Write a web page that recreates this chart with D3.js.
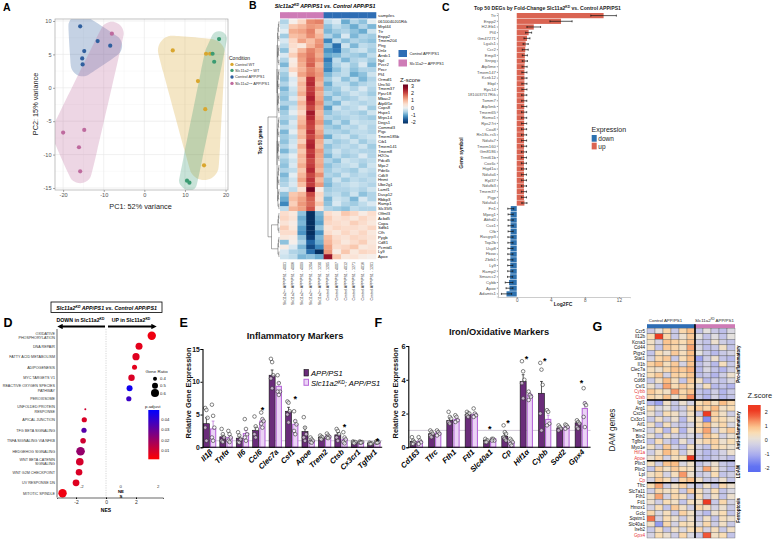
<!DOCTYPE html>
<html>
<head>
<meta charset="utf-8">
<script src="https://cdn.jsdelivr.net/npm/d3@7"></script>
<style>
body { margin: 0; background: #fff; }
svg { font-family: "Liberation Sans", Arial, sans-serif; }
</style>
</head>
<body>
<svg id="fig" width="776" height="540"></svg>
<script>
var FONT = "Liberation Sans, Arial, sans-serif";

// ---------------- data: panel A (PCA) ----------------
var pcaGroups = ["Control WT", "Slc11a2^{KD} WT", "Control APP/PS1", "Slc11a2^{KD} APP/PS1"];
var pcaColors = ["#D9A62E", "#3B9B72", "#2F5F9E", "#BE6A9E"];
var pc1 = [7, 13.2, 15.2, 16.2, 15, 14.7, 10.5, 11.1, 18.4, 17.2, 16.8, -15.8, -11.5, -8.4, -14.8, -15.3, -15.2, -8, -14.8, -20, -16.1, -15.8];
var pc2 = [5.6, 1, 5.1, 5.1, -3.2, -11.6, -13.9, -14.2, 7.3, 3.9, 5.1, 9.2, 7, 6.3, 5.5, 4.4, 3.5, 8.1, -6.3, -6.7, -8.9, -12.5];
var pcGroup = [0, 0, 0, 0, 0, 0, 1, 1, 1, 1, 1, 2, 2, 2, 2, 2, 2, 3, 3, 3, 3, 3];

// ---------------- data: panel B (heatmap) ----------------
var genesB = ["0610040J01Rik","Mrpl44","Ttr","Enpp2","Tmem204","Ptrg","Dnlz","Arrdc1","Npl","Pvcr2","Pecr","Pf4",
  "Ormdl1","Unc50","Tmem37","Ppsr18","Mbac2","Atp6f1e","Cops8","Hspe1","Mrps14","Degs1","Commd3","Pigc",
  "Tmem185b","Cib1","Tmem141","Tmem8","H2Oa","Pdcd5","Mpc2","Pde6c","Cdk9","Hnmt","Ube2g1","Lamf1",
  "Dusp12","Rbbp3","Ramp1","Slc35f5","Olfml3","Acbd5","Copa","Sdfb1","Cfh","Pygb","Cd81","Pcmtd1","Ly9","Apoe"];
var samplesB = ["Slc11a2^{KD} APP/PS1 - 4001","Slc11a2^{KD} APP/PS1 - 4006","Slc11a2^{KD} APP/PS1 - 4009",
  "Slc11a2^{KD} APP/PS1 - 1204","Slc11a2^{KD} APP/PS1 - 1230","Control APP/PS1 - 1205","Control APP/PS1 - 4007",
  "Control APP/PS1 - 4012","Control APP/PS1 - 1271","Control APP/PS1 - 4016","Control APP/PS1 - 1201"];
var sampleGroupB = [1, 1, 1, 1, 1, 0, 0, 0, 0, 0, 0];
var heatB = [
  [-0.6, 0.1, 0.6, 1.4, 1.5, -0.5, -0.3, -1.0, -0.6, -0.8, -0.2],
  [-0.4, 0.8, 1.0, 1.3, 1.2, -0.8, -0.5, -0.7, -1.0, -0.6, -0.9],
  [-0.2, 1.1, 1.2, 1.5, 0.8, -0.9, -0.7, -0.6, -0.8, -1.0, -0.4],
  [-0.7, 0.9, 1.0, 1.4, 1.0, -0.6, -0.9, -0.3, -0.9, -0.6, -0.7],
  [-0.3, 0.6, 1.2, 0.9, 1.3, -1.3, -0.5, -0.8, -0.6, -0.7, -0.8],
  [-0.5, 0.5, 0.3, 1.0, 1.4, -0.8, -1.5, -0.4, -0.9, -0.5, -0.6],
  [-0.8, 0.4, 1.0, 1.5, 1.2, -1.2, -1.4, -0.7, -0.5, -0.4, -0.7],
  [-0.3, 0.7, 1.3, 1.6, 1.1, -1.0, -0.9, -0.6, -0.7, -0.8, -0.5],
  [-0.6, 0.2, 1.2, 1.7, 1.3, -1.4, -0.5, -0.9, -0.6, -0.5, -0.7],
  [-0.9, 0.3, 1.1, 1.8, 1.0, -1.2, -0.6, -0.4, -0.7, -0.3, -0.9],
  [-0.5, 0.6, 1.0, 1.5, 1.2, -1.3, -0.8, -0.5, -0.8, -0.6, -0.6],
  [-0.7, 0.1, 1.2, 1.6, 1.3, -0.9, -0.6, -0.5, -1.0, -0.8, -0.4],
  [-0.8, -0.3, 0.8, 2.2, 1.2, -0.7, -0.4, -0.8, -0.5, -0.9, -0.6],
  [-0.6, -0.2, 1.0, 2.3, 1.0, -1.0, -0.5, -0.5, -0.8, -0.6, -0.5],
  [-0.9, -0.4, 0.9, 2.1, 1.3, -0.8, -0.7, -0.4, -0.6, -0.3, -0.6],
  [-0.7, -0.5, 1.1, 2.2, 1.1, -0.6, -0.8, -0.6, -0.4, -0.5, -0.7],
  [-0.8, -0.3, 0.7, 2.4, 1.2, -0.9, -0.5, -0.7, -0.6, -0.4, -0.5],
  [-0.6, -0.6, 1.0, 2.2, 1.4, -0.7, -0.9, -0.4, -0.5, -0.6, -0.5],
  [-0.9, -0.4, 0.8, 2.0, 1.2, -1.1, -0.4, -0.6, -0.5, -0.3, -0.7],
  [-0.7, -0.2, 0.6, 2.5, 1.0, -0.8, -0.6, -0.5, -0.6, -0.7, -0.4],
  [-0.6, -0.5, 0.9, 2.3, 1.1, -0.6, -0.7, -0.6, -0.5, -0.6, -0.7],
  [-0.8, -0.3, 1.0, 2.1, 1.3, -0.9, -0.5, -0.8, -0.4, -0.5, -0.5],
  [-0.5, -0.4, 1.2, 2.0, 1.0, -0.7, -0.8, -0.5, -0.6, -0.4, -0.6],
  [-0.9, -0.2, 0.9, 2.2, 1.2, -0.6, -0.6, -0.7, -0.5, -0.5, -0.6],
  [-0.7, -0.5, 1.0, 2.0, 1.4, -1.0, -0.5, -0.4, -0.7, -0.5, -0.4],
  [-0.8, -0.4, 0.7, 2.3, 1.1, -0.5, -0.7, -0.6, -0.4, -0.7, -0.5],
  [-0.6, -0.3, 1.1, 2.4, 1.0, -0.8, -0.6, -0.5, -0.6, -0.4, -0.7],
  [-0.9, -0.5, 0.8, 2.1, 1.3, -0.7, -0.4, -0.6, -0.5, -0.6, -0.6],
  [-0.5, -0.2, 1.0, 2.2, 1.2, -0.9, -0.5, -0.7, -0.6, -0.3, -0.6],
  [-0.7, -0.4, 0.9, 2.0, 1.1, -0.6, -0.8, -0.4, -0.5, -0.6, -0.5],
  [-0.8, -0.3, 1.1, 2.1, 1.2, -0.8, -0.6, -0.5, -0.4, -0.7, -0.4],
  [-0.6, -0.5, 0.8, 2.3, 1.0, -0.7, -0.5, -0.6, -0.7, -0.4, -0.5],
  [-0.9, -0.2, 1.0, 2.0, 1.4, -0.6, -0.7, -0.4, -0.6, -0.5, -0.6],
  [-0.7, -0.4, 1.2, 2.2, 1.0, -0.8, -0.4, -0.7, -0.5, -0.6, -0.5],
  [-0.6, -0.3, 0.9, 2.1, 1.3, -0.9, -0.6, -0.5, -0.4, -0.5, -0.6],
  [-0.3, -0.5, 0.4, 2.9, 0.2, -0.7, -0.6, -0.6, -0.5, -0.6, -0.4],
  [-0.8, 0.8, 1.0, 2.0, 0.6, -0.6, -0.5, -0.7, -0.4, -0.8, -0.6],
  [-1.0, 0.9, 1.2, 1.8, 0.5, -0.9, -0.4, -0.5, -0.9, -0.3, -0.6],
  [-1.3, 0.7, 1.3, 1.7, 0.8, -0.8, -0.3, -0.6, -0.7, -0.5, -0.3],
  [-0.5, 1.0, 1.2, 1.9, 0.4, -0.6, -0.7, -0.8, -0.5, -0.6, -0.6],
  [0.5, 0.3, -0.8, -2.0, -0.9, 0.5, 0.3, 0.8, 0.6, 0.2, 0.5],
  [0.6, 0.4, -1.0, -2.1, -1.0, 0.7, 0.4, 0.5, 0.3, 0.6, 0.4],
  [0.4, 0.2, -0.9, -2.2, -1.1, 0.6, 0.5, 0.4, 0.7, 0.5, 0.3],
  [0.7, 0.3, -1.1, -2.0, -0.8, 0.4, 0.6, 0.5, 0.5, 0.4, 0.6],
  [0.5, 0.5, -1.2, -2.1, -1.2, 0.5, 0.3, 0.6, 0.4, 0.6, 0.3],
  [0.3, 0.2, -0.8, -1.9, -0.9, 0.9, 0.5, 0.4, 0.6, 0.5, 0.4],
  [-0.8, 0.1, -0.6, -1.6, -1.0, 1.0, 0.6, 0.3, 0.5, 0.7, 0.3],
  [0.2, -0.3, -0.9, -1.8, -1.3, 1.2, 0.5, 0.6, 0.8, 0.3, 0.4],
  [-0.3, -0.6, -0.7, -1.5, -2.0, 1.3, 0.2, 0.8, 0.3, 0.6, 0.5],
  [-0.4, -0.5, -0.9, -0.8, -1.0, 2.6, 0.8, 0.3, 0.4, 0.2, 0.1]
];

// ---------------- data: panel C (DEG fold change) ----------------
var genesC = ["Ttr","Enpp2","H2-Eb1","Pf4","Gm47271","Lgals1","Ccr2","Emp3","Snrpg","Atp5me","Tmem147","Kcnk12",
  "Ebpl","Rps14","1810037I17Rik","Tomm7","Atp5mk","Tmem65","Romo1","Rps27rt","Coa8","Rn18s-rs5","Ndufa7",
  "Tmem160","Gm8186","Trmt61b","Cox6c","Higd1a","Ndufa6","Rpl37","Ndufb3","Tmem37","Pigp","Ndufa4",
  "Fn1","Mpeg1","Abhd2","Cux1","Cfb","Rasgrp3","Top2b","Usp8","Fbxw","Zbtb1","Ly9","Ramp2","Smarcc2","Cybb","Apoe","Adamts1"];
var log2fcC = [10.2, 5.2, 2.0, 1.4, 1.2, 1.05, 1.0, 0.95, 0.95, 0.92, 0.9, 0.9, 0.9, 0.9, 0.88, 0.88, 0.88, 0.87,
  0.87, 0.87, 0.86, 0.86, 0.86, 0.86, 0.85, 0.85, 0.85, 0.85, 0.85, 0.85, 0.85, 0.85, 0.85, 0.9,
  -0.7, -0.72, -0.72, -0.72, -0.72, -0.74, -0.74, -0.74, -0.75, -0.75, -0.76, -0.76, -0.78, -0.9, -0.85, -1.2];
var seC = [1.5, 1.3, 0.8, 0.35, 0.35, 0.3, 0.35, 0.3, 0.3, 0.3, 0.3, 0.3, 0.3, 0.3, 0.3, 0.3, 0.3, 0.3,
  0.3, 0.3, 0.3, 0.3, 0.3, 0.3, 0.3, 0.3, 0.3, 0.3, 0.3, 0.3, 0.3, 0.3, 0.3, 0.3,
  0.35, 0.3, 0.3, 0.3, 0.3, 0.3, 0.3, 0.3, 0.3, 0.3, 0.3, 0.3, 0.3, 0.45, 0.4, 0.6];

// ---------------- data: panel D (GSEA) ----------------
var pathwaysD = ["OXIDATIVE\nPHOSPHORYLATION","DNA REPAIR","FATTY ACID METABOLISM","ADIPOGENESIS","MYC TARGETS V1",
  "REACTIVE OXYGEN SPECIES\nPATHWAY","PEROXISOME","UNFOLDED PROTEIN\nRESPONSE","APICAL JUNCTION","TFG BETA SIGNALING",
  "TNFA SIGNALING VIA NFKB","HEDGEHOG SIGNALING","WNT BETA CATENIN\nSIGNALING","WNT G2M CHECKPOINT","UV RESPONSE DN","MITOTIC SPINDLE"];
var nesD = [3.05, 2.2, 2.0, 1.9, 1.7, 1.57, 1.52, -1.38, -1.45, -1.47, -1.53, -1.7, -1.75, -1.8, -2.0, -2.9];
var ratioD = [0.62, 0.55, 0.56, 0.45, 0.52, 0.5, 0.46, 0.3, 0.46, 0.46, 0.48, 0.63, 0.58, 0.53, 0.54, 0.62];
var padjD = [0.004, 0.006, 0.007, 0.006, 0.008, 0.046, 0.038, 0.01, 0.008, 0.033, 0.01, 0.021, 0.009, 0.008, 0.007, 0.004];

// ---------------- data: panel E (inflammatory qPCR) ----------------
var genesE = ["Il1β","Tnfα","Il6","Ccl6","Clec7a","Csf1","Apoe","Trem2","Ctsb","Cx3cr1","Tgfbr1"];
var meanE_app = [3.6, 1.6, 1.4, 2.6, 11.0, 5.5, 2.4, 1.5, 1.9, 0.8, 0.6];
var meanE_kd = [2.8, 1.5, 2.1, 4.0, 9.3, 3.5, 1.0, 1.7, 1.2, 0.8, 0.8];
var semE_app = [0.9, 0.3, 0.3, 0.5, 0.8, 0.6, 0.7, 0.1, 0.3, 0.05, 0.05];
var semE_kd = [1.2, 0.3, 0.5, 0.4, 0.6, 0.6, 0.15, 0.1, 0.3, 0.05, 0.05];
var ptsE_app = [[6.0, 5.7, 4.5, 3.0, 1.0], [2.8, 2.0, 1.5, 1.0, 0.8], [2.3, 1.8, 1.2, 0.8, 0.7], [4.7, 3.2, 2.8, 2.0, 1.5],
  [13.5, 13.0, 11.0, 10.5, 9.0], [7.0, 6.8, 5.5, 5.0, 3.8], [4.6, 3.0, 2.0, 1.5, 1.0], [1.8, 1.6, 1.5, 1.3, 1.2],
  [2.8, 2.5, 2.0, 1.5, 1.0], [0.9, 0.8, 0.8, 0.7, 0.6], [0.7, 0.6, 0.6, 0.5, 0.5]];
var ptsE_kd = [[6.5, 4.8, 3.0, 1.5, 1.0], [2.5, 2.0, 1.5, 1.0, 0.8], [4.3, 2.8, 2.0, 1.5, 1.0], [5.3, 4.3, 4.0, 3.6, 3.0],
  [11.0, 9.8, 8.5, 8.5, 8.0], [5.5, 4.0, 3.5, 2.5, 2.0], [1.5, 1.2, 1.0, 0.8, 0.7], [2.1, 1.8, 1.6, 1.5, 1.4],
  [2.3, 1.5, 1.2, 0.8, 0.6], [0.9, 0.8, 0.8, 0.7, 0.7], [0.9, 0.8, 0.8, 0.7, 0.7]];
var starE = [null, null, null, 6.0, null, 7.6, null, null, 3.4, null, 1.3];

// ---------------- data: panel F (iron/oxidative qPCR) ----------------
var genesF = ["Cd163","Tfrc","Fth1","Ftl1","Slc40a1","Cp","Hif1α","Cybb","Sod2","Gpx4"];
var meanF_app = [0.35, 0.8, 1.6, 1.95, 0.4, 0.65, 3.9, 3.2, 1.15, 1.45];
var meanF_kd = [0.35, 0.85, 1.65, 1.95, 0.5, 0.3, 3.1, 1.65, 1.2, 2.3];
var semF_app = [0.08, 0.07, 0.12, 0.06, 0.04, 0.15, 0.4, 0.7, 0.06, 0.1];
var semF_kd = [0.07, 0.07, 0.1, 0.1, 0.03, 0.08, 0.12, 0.25, 0.06, 0.4];
var ptsF_app = [[0.6, 0.4, 0.3, 0.2, 0.2], [1.0, 0.9, 0.8, 0.7, 0.6], [2.1, 1.8, 1.7, 1.5, 1.4], [2.1, 2.0, 2.0, 1.9, 1.8],
  [0.5, 0.4, 0.4, 0.3, 0.3], [1.3, 0.9, 0.8, 0.6, 0.5, 0.4], [5.1, 4.5, 4.0, 3.8, 2.9], [5.0, 4.6, 3.7, 2.0, 1.0],
  [1.3, 1.2, 1.1, 1.0], [1.6, 1.5, 1.4, 1.2, 1.1]];
var ptsF_kd = [[0.6, 0.4, 0.3, 0.2], [1.0, 0.9, 0.8, 0.7], [1.9, 1.8, 1.6, 1.5], [2.3, 2.0, 1.9, 1.8],
  [0.5, 0.5, 0.4, 0.4], [0.5, 0.4, 0.3, 0.2, 0.1], [3.3, 3.1, 3.0, 2.8], [2.2, 2.1, 1.4, 1.3],
  [1.35, 1.3, 1.2, 1.1], [3.5, 2.6, 2.5, 1.8, 1.2]];
var starF = [null, null, null, null, 1.22, 1.58, 5.34, 5.22, null, 3.9];

// ---------------- data: panel G (DAM genes heatmap) ----------------
var genesG = ["Ccr5","Il12b","Kcna3","Cd44","Ptgs2","Stat1","Il1b","Clec7a","Tlr2","Cd68","Csf1","Cybb","Ctsb",
  "Igf1","Arg1","Cxcr4","Cx3cr1","Aif1","Trem2","Bin2","Tgfbr1","Myo1e","Hif1a","Apoe",
  "Plin3","Plin2","Lpl","Cp",
  "Tfrc","Slc7a11","Fth1","Ftl1","Hmox1","Gclc","Sqstm1","Slc40a1","Ireb2","Gpx4"];
var redGenesG = ["Cybb","Ctsb","Hif1a","Apoe","Cp","Gpx4"];
var groupNamesG = ["Pro-inflammatory","Anti-inflammatory","LDAM","Ferroptosis"];
var groupSizesG = [13, 11, 4, 10];
var heatG = [
  [-0.5, 0, 0.6, -0.5, 0.6, 1.0, -0.6, 0, -0.5, -0.7, -0.2],
  [0.5, 2.5, 0.6, -0.5, 0.2, 0.8, 0, -0.6, -0.1, -0.6, 0],
  [0.3, -0.3, 0.9, 0.7, 0.5, 1.0, -0.4, -0.6, 0.2, -0.4, -0.6],
  [0.4, -0.6, 0.8, 0.6, 0.3, 1.2, -0.2, -0.7, -0.5, 0.3, -0.6],
  [-0.6, 0.5, 0.2, 0.8, 0.4, 1.0, 0, -0.5, -0.8, -0.5, -0.3],
  [-0.3, 0.6, 0.8, -0.5, 0.5, 1.0, -1.2, -0.4, 0.2, -0.6, -0.8],
  [0.7, 1.0, 0.4, 0.8, -0.3, 0.9, -0.7, -0.3, -0.8, 0.4, -0.5],
  [0.4, 0.2, 0.6, 0.9, 0.8, 1.1, -0.8, -0.2, -0.6, -0.9, -0.4],
  [0.5, 0.8, -0.3, 0.7, 0.6, 0.9, -0.7, -0.5, -0.9, -0.4, 0.2],
  [-0.5, 0.3, 1.0, 0.4, -0.6, 0.8, 0.3, -0.8, -0.4, -0.6, -0.2],
  [0.2, -0.4, 1.2, 0.5, 0.8, 0.6, -0.3, 0.4, -0.8, -0.6, -0.9],
  [0.8, 0.5, 0.3, 1.3, 0.6, 0.9, -0.6, -0.8, -0.4, -0.9, -0.5],
  [0.6, 0.4, 0.9, 0.2, 0.7, 1.4, -0.5, -0.9, -0.3, -0.8, -0.6],
  [-0.8, -1.2, 0.3, -0.5, 0.2, -0.3, 0.5, 0.8, 0.4, 1.0, 0.6],
  [0.4, -0.2, 0.1, -0.6, -0.4, 0.6, 0.8, 0.6, 1.0, 0.3, 0.5],
  [0.2, -0.5, 0.5, 0.3, -0.3, 0.4, -0.5, 2.3, 0.7, 0.3, -0.4],
  [-0.5, 0.3, -0.4, 0.2, -0.8, 0.3, 0.4, -1.5, 0.6, 0.5, 0.2],
  [0.3, -0.7, 0.4, -0.4, -0.6, -0.3, 0.5, 1.0, 0.3, 0.6, -0.2],
  [-0.3, 0.4, -0.8, 0.5, -0.9, 0.2, 0.6, 1.2, -0.3, 0.4, 0.8],
  [0.2, -0.6, 0.3, -0.3, -0.5, -0.2, -0.4, 0.9, 0.5, -0.3, 0.2],
  [-0.6, 0.5, -0.4, -0.8, 0.2, -0.5, 0.3, 0.6, 0.7, 0.2, 0.5],
  [0.3, -0.4, 0.8, -0.3, -0.7, 0.4, -0.3, -0.6, 0.6, 0.4, 0.2],
  [-0.4, 0.3, 1.0, 0.6, -0.5, 0.3, -0.5, -0.8, -0.6, -0.3, 0.2],
  [0.2, 0.6, -0.3, 0.4, 0.5, 2.0, -0.6, -0.8, -0.5, -0.4, -0.7],
  [0.4, -0.4, 0.9, 1.0, -0.2, 0.3, -0.6, -0.3, 0.2, -0.5, -0.7],
  [-0.6, 0.7, 0.3, 0.8, 0.5, 0.4, -0.3, 1.2, 0.4, -0.4, -0.8],
  [0.3, 0.6, -0.3, 0.4, 1.3, 0.2, -0.5, -0.3, 0.5, -0.6, -0.4],
  [-0.3, 0.8, 0.5, -0.4, 0.7, 1.0, 0.3, -0.5, -0.4, 0.2, -0.6],
  [0.5, 1.2, -0.4, 0.3, 0.7, -0.3, -0.5, 0.3, -0.6, 0.6, 0.2],
  [-0.4, 0.6, 0.3, 0.5, -0.5, 0.8, 0.4, -0.3, 0.5, -0.6, -0.2],
  [0.3, 1.2, -0.3, 0.6, 0.4, -0.5, 0.5, -0.4, 0.3, -0.6, 0.2],
  [0.2, -0.4, 0.5, 0.3, -0.6, 0.4, 0.3, 2.2, -0.5, 0.6, -0.3],
  [-0.3, 0.5, -0.6, 0.8, 0.3, -0.4, 0.6, 0.4, -0.3, 0.2, -0.5],
  [0.6, -0.2, 0.4, -0.5, 0.7, 0.3, -0.4, -0.8, 0.2, 0.5, -0.6],
  [1.6, -0.3, 0.5, 0.2, -0.4, 0.3, -0.5, 0.3, -0.6, 0.4, 0.2],
  [0.3, -1.3, 0.6, -0.3, 0.5, 0.4, -0.2, 0.6, -0.4, 0.3, -0.5],
  [-0.5, 0.4, -0.6, 0.3, -0.2, 0.5, 0.6, -0.3, 0.4, -0.5, 0.3],
  [-0.3, 0.5, 0.2, -0.4, 0.6, -0.2, -0.5, 1.8, 0.3, 0.5, -0.6]
];
var nCtrlG = 6;

// ---------------- helpers ----------------
var svg = d3.select("#fig");
var defs = svg.append("defs");

// "^{..}" marks a superscript
function rich(t, str) {
  str.split(/(\^\{[^}]*\})/).forEach(function (p) {
    if (!p) return;
    if (p[0] === "^") {
      t.append("tspan").attr("baseline-shift", "super").attr("font-size", "65%").text(p.slice(2, -1));
    } else {
      t.append("tspan").text(p);
    }
  });
  return t;
}

function txt(x, y, str, size, opts) {
  opts = opts || {};
  var t = svg.append("text").attr("x", x).attr("y", y)
    .attr("font-size", size)
    .attr("font-weight", opts.weight || "normal")
    .attr("font-style", opts.style || "normal")
    .attr("text-anchor", opts.anchor || "start")
    .attr("fill", opts.fill || "#000");
  if (opts.rotate) t.attr("transform", "rotate(" + opts.rotate + "," + x + "," + y + ")");
  return rich(t, str);
}

function styleAxis(g, size, color, weight) {
  g.attr("font-size", size).attr("font-family", FONT).attr("font-weight", weight || "normal");
  g.selectAll("text").attr("fill", color);
  return g;
}

// panel letters
txt(3, 10.5, "A", 10.5, { weight: "bold" });
txt(249, 9, "B", 10.5, { weight: "bold" });
txt(442, 10.5, "C", 10.5, { weight: "bold" });
txt(3.5, 327, "D", 12.5, { weight: "bold" });
txt(179.5, 327, "E", 12.5, { weight: "bold" });
txt(374.5, 327, "F", 12.5, { weight: "bold" });
txt(592.5, 330.5, "G", 12.5, { weight: "bold" });

// ================= Panel A =================
(function () {
  var L = 55, R = 228, T = 19, B = 190;
  var x = d3.scaleLinear().domain([-22, 20.6]).range([L, R]);
  var y = d3.scaleLinear().domain([-15.3, 10.3]).range([B, T]);
  var g = svg.append("g");
  defs.append("clipPath").attr("id", "clipA").append("rect")
    .attr("x", L).attr("y", T).attr("width", R - L).attr("height", B - T);

  // grid
  g.selectAll(".gxm").data([-15, -5, 5, 15]).enter().append("line")
    .attr("x1", function (d) { return x(d); }).attr("x2", function (d) { return x(d); })
    .attr("y1", T).attr("y2", B).attr("stroke", "#F2F2F2").attr("stroke-width", 0.4);
  g.selectAll(".gym").data([-12.5, -7.5, -2.5, 2.5, 7.5]).enter().append("line")
    .attr("y1", function (d) { return y(d); }).attr("y2", function (d) { return y(d); })
    .attr("x1", L).attr("x2", R).attr("stroke", "#F2F2F2").attr("stroke-width", 0.4);
  g.selectAll(".gx").data([-20, -10, 0, 10, 20]).enter().append("line")
    .attr("x1", function (d) { return x(d); }).attr("x2", function (d) { return x(d); })
    .attr("y1", T).attr("y2", B).attr("stroke", "#E6E6E6").attr("stroke-width", 0.6);
  g.selectAll(".gy").data([-15, -10, -5, 0, 5, 10]).enter().append("line")
    .attr("y1", function (d) { return y(d); }).attr("y2", function (d) { return y(d); })
    .attr("x1", L).attr("x2", R).attr("stroke", "#E6E6E6").attr("stroke-width", 0.6);

  // smoothed, padded hull per group (encircle style)
  var pts = pc1.map(function (v, i) { return { x: x(v), y: y(pc2[i]), g: pcGroup[i] }; });
  var pad = [15, 8, 12, 12];
  var line = d3.line().curve(d3.curveBasisClosed);
  var eg = g.append("g").attr("clip-path", "url(#clipA)");
  pcaGroups.forEach(function (name, gi) {
    var cand = [];
    pts.filter(function (d) { return d.g === gi; }).forEach(function (d) {
      d3.range(0, 24).forEach(function (k) {
        var a = k / 24 * 2 * Math.PI;
        cand.push([d.x + pad[gi] * Math.cos(a), d.y + pad[gi] * Math.sin(a)]);
      });
    });
    var hull = d3.polygonHull(cand);
    eg.append("path").attr("d", line(hull)).attr("fill", pcaColors[gi]).attr("fill-opacity", 0.28);
  });

  g.selectAll(".pt").data(pts).enter().append("circle")
    .attr("cx", function (d) { return d.x; }).attr("cy", function (d) { return d.y; })
    .attr("r", 2.1).attr("fill", function (d) { return pcaColors[d.g]; });

  g.append("rect").attr("x", L).attr("y", T).attr("width", R - L).attr("height", B - T)
    .attr("fill", "none").attr("stroke", "#999").attr("stroke-width", 0.6);

  var ax = g.append("g").attr("transform", "translate(0," + B + ")")
    .call(d3.axisBottom(x).tickValues([-20, -10, 0, 10, 20]).tickSize(2).tickPadding(1.5).tickFormat(String));
  styleAxis(ax, 5.6, "#555");
  ax.select(".domain").remove();
  ax.selectAll("line").attr("stroke", "#555").attr("stroke-width", 0.5);
  var ay = g.append("g").attr("transform", "translate(" + L + ",0)")
    .call(d3.axisLeft(y).tickValues([-15, -10, -5, 0, 5, 10]).tickSize(2).tickPadding(1.5).tickFormat(String));
  styleAxis(ay, 5.6, "#555");
  ay.select(".domain").remove();
  ay.selectAll("line").attr("stroke", "#555").attr("stroke-width", 0.5);

  txt(140.5, 208.5, "PC1: 52% variance", 7.3, { anchor: "middle", fill: "#222" });
  txt(37.5, 104, "PC2: 15% variance", 7.3, { anchor: "middle", fill: "#222", rotate: -90 });

  // legend
  txt(229, 60, "Condition", 5, { fill: "#222" });
  [65.7, 71.7, 78.3, 84.7].forEach(function (yy, i) {
    svg.append("circle").attr("cx", 232).attr("cy", yy - 1.3).attr("r", 1.7).attr("fill", pcaColors[i]);
    txt(235, yy, pcaGroups[i], 3.9, { fill: "#333" });
  });
})();

// ================= Panel B =================
(function () {
  var L = 280, R = 376, T = 19.3, B = 259;
  var x = d3.scaleBand().domain(d3.range(samplesB.length)).range([L, R]);
  var y = d3.scaleBand().domain(genesB).range([T, B]);
  var col = d3.scaleDiverging().domain([3, 0, -2]).interpolator(d3.interpolateRdBu);
  var annCol = ["#2E6DB4", "#CE7BB6"];

  txt(325, 8, "Slc11a2^{KD} APP/PS1 vs. Control APP/PS1", 5.3, { anchor: "middle", weight: "bold", style: "italic" });

  // annotation bar
  svg.selectAll(".ann").data(sampleGroupB).enter().append("rect")
    .attr("x", function (d, i) { return x(i); }).attr("y", 12.2)
    .attr("width", x.bandwidth() + 0.3).attr("height", 6.2)
    .attr("fill", function (d) { return annCol[d]; });
  txt(378, 17, "samples", 4.4, { fill: "#222" });

  // cells
  var cells = [];
  heatB.forEach(function (row, r) { row.forEach(function (v, c) { cells.push({ r: r, c: c, v: v }); }); });
  svg.append("g").selectAll("rect").data(cells).enter().append("rect")
    .attr("x", function (d) { return x(d.c); }).attr("y", function (d) { return y(genesB[d.r]); })
    .attr("width", x.bandwidth() + 0.3).attr("height", y.bandwidth() + 0.3)
    .attr("fill", function (d) { return col(d.v); });

  svg.append("g").selectAll("text").data(genesB).enter().append("text")
    .attr("x", 378).attr("y", function (d) { return y(d) + y.bandwidth() / 2 + 1.5; })
    .attr("font-size", 4.2).attr("fill", "#111").text(function (d) { return d; });

  // sample labels
  samplesB.forEach(function (s, i) {
    txt(x(i) + x.bandwidth() / 2 + 1.3, 262, s, 3.6, { anchor: "end", rotate: -90, fill: "#333" });
  });

  // dendrogram
  var leafX = 279.3;
  var dg = svg.append("g").attr("stroke", "#444").attr("stroke-width", 0.45).attr("fill", "none");
  function node(lo, hi, forceX) {
    if (lo === hi) return { x: leafX, y: y(genesB[lo]) + y.bandwidth() / 2 };
    var mid = Math.floor((lo + hi) / 2);
    var a = node(lo, mid), b = node(mid + 1, hi);
    var nx = forceX !== undefined ? forceX : leafX - 0.45 * Math.ceil(Math.log2(hi - lo + 1));
    dg.append("path").attr("d", "M" + a.x + "," + a.y + "H" + nx + "V" + b.y + "H" + b.x);
    return { x: nx, y: (a.y + b.y) / 2 };
  }
  var top = node(0, 39, 277), bot = node(40, 49, 271.5);
  dg.append("path").attr("d", "M" + top.x + "," + top.y + "H268V" + bot.y + "H" + bot.x);
  txt(261.5, 140, "Top 50 genes", 4.5, { anchor: "middle", weight: "bold", rotate: -90 });

  // legends
  svg.append("rect").attr("x", 398.5).attr("y", 50).attr("width", 8.5).attr("height", 7).attr("fill", annCol[0]);
  txt(409.5, 55.3, "Control APP/PS1", 3.9, { fill: "#222" });
  svg.append("rect").attr("x", 398.5).attr("y", 59.5).attr("width", 8.5).attr("height", 7).attr("fill", annCol[1]);
  txt(409.5, 64.8, "Slc11a2^{KD} APP/PS1", 3.9, { fill: "#222" });

  txt(400, 81.5, "Z-score", 6, { fill: "#222" });
  var zy = d3.scaleLinear().domain([-2.25, 3.2]).range([123.5, 84.5]);
  var grad = defs.append("linearGradient").attr("id", "gradB").attr("x1", 0).attr("x2", 0).attr("y1", 1).attr("y2", 0);
  d3.range(0, 11).forEach(function (i) {
    var v = -2.25 + i / 10 * 5.45;
    grad.append("stop").attr("offset", i / 10).attr("stop-color", col(v));
  });
  svg.append("rect").attr("x", 403).attr("y", zy(3.2)).attr("width", 5).attr("height", zy(-2.25) - zy(3.2))
    .attr("fill", "url(#gradB)");
  var az = svg.append("g").attr("transform", "translate(408,0)")
    .call(d3.axisRight(zy).tickValues([-2, -1, 0, 1, 2, 3]).tickSize(0).tickPadding(3).tickFormat(String));
  styleAxis(az, 5.4, "#222");
  az.select(".domain").remove();
})();

// ================= Panel C =================
(function () {
  var L = 498, R = 630, T = 13, B = 296.5;
  var x = d3.scaleLinear().domain([-2.2, 13.3]).range([L, R]);
  var y = d3.scaleBand().domain(genesC).range([T, B]).paddingInner(0.08);
  var up = "#DA6452", down = "#2D71AF";

  txt(474, 10, "Top 50 DEGs by Fold-Change Slc11a2^{KD} vs. Control APP/PS1", 5.1, { weight: "bold", fill: "#222" });

  svg.append("g").selectAll("rect").data(genesC).enter().append("rect")
    .attr("x", function (d, i) { return x(Math.min(0, log2fcC[i])); })
    .attr("y", function (d) { return y(d); })
    .attr("width", function (d, i) { return Math.abs(x(log2fcC[i]) - x(0)); })
    .attr("height", y.bandwidth())
    .attr("fill", function (d, i) { return log2fcC[i] > 0 ? up : down; });

  var eb = svg.append("g").attr("stroke", "#111").attr("stroke-width", 0.7);
  genesC.forEach(function (gname, i) {
    var cy = y(gname) + y.bandwidth() / 2;
    var x1 = x(log2fcC[i] - seC[i]), x2 = x(log2fcC[i] + seC[i]);
    eb.append("line").attr("x1", x1).attr("x2", x2).attr("y1", cy).attr("y2", cy);
    eb.append("line").attr("x1", x1).attr("x2", x1).attr("y1", cy - 1).attr("y2", cy + 1);
    eb.append("line").attr("x1", x2).attr("x2", x2).attr("y1", cy - 1).attr("y2", cy + 1);
  });

  var ay = svg.append("g").attr("transform", "translate(" + L + ",0)")
    .call(d3.axisLeft(y).tickSize(1.2).tickPadding(1));
  styleAxis(ay, 4.2, "#555");
  ay.select(".domain").attr("stroke", "#999").attr("stroke-width", 0.5);
  ay.selectAll("line").attr("stroke", "#999");

  var ax = svg.append("g").attr("transform", "translate(0," + (B + 0.5) + ")")
    .call(d3.axisBottom(x).tickValues([0, 4, 8, 12]).tickSize(1.2).tickPadding(1));
  styleAxis(ax, 4.6, "#555");
  ax.select(".domain").attr("stroke", "#999").attr("stroke-width", 0.5);
  ax.selectAll("line").attr("stroke", "#999");

  txt(563, 305.5, "Log2FC", 5, { anchor: "middle", weight: "bold", fill: "#222" });
  txt(462.5, 153, "Gene symbol", 5, { anchor: "middle", weight: "bold", fill: "#222", rotate: -90 });

  txt(591.5, 132, "Expression", 7, { fill: "#222" });
  svg.append("rect").attr("x", 591.7).attr("y", 135).attr("width", 5).attr("height", 6.7).attr("fill", down);
  svg.append("rect").attr("x", 591.7).attr("y", 142.7).attr("width", 5).attr("height", 6.7).attr("fill", up);
  txt(598.3, 140.8, "down", 6.5, { fill: "#222" });
  txt(598.3, 148.5, "up", 6.5, { fill: "#222" });
})();

// ================= Panel D =================
(function () {
  var L = 57, R = 163, T = 329, B = 497.5;
  var x = d3.scaleLinear().domain([-3.27, 3.8]).range([L, R]);
  var y = d3.scalePoint().domain(d3.range(pathwaysD.length)).range([335.7, 493.3]);
  var rScale = d3.scaleLinear().domain([0.3, 0.6]).range([1, 4]);
  var pCol = d3.scaleLinear().domain([0.001, 0.049]).range(["#FF0000", "#0000FF"]);

  // header box
  svg.append("rect").attr("x", 51).attr("y", 302).attr("width", 111).attr("height", 10.5)
    .attr("fill", "#fff").attr("stroke", "#000").attr("stroke-width", 0.8);
  txt(106.5, 309.5, "Slc11a2^{KD} APP/PS1 vs. Control APP/PS1", 5.3, { anchor: "middle", weight: "bold", style: "italic" });

  // arrows
  defs.append("marker").attr("id", "arrowD").attr("viewBox", "0 0 10 10").attr("refX", 5).attr("refY", 5)
    .attr("markerWidth", 3).attr("markerHeight", 3).attr("orient", "auto-start-reverse")
    .append("path").attr("d", "M0,0L10,5L0,10z").attr("fill", "#000");
  svg.append("line").attr("x1", 105).attr("x2", 60).attr("y1", 326.5).attr("y2", 326.5)
    .attr("stroke", "#000").attr("stroke-width", 1.8).attr("marker-end", "url(#arrowD)");
  svg.append("line").attr("x1", 108).attr("x2", 154).attr("y1", 326.5).attr("y2", 326.5)
    .attr("stroke", "#000").attr("stroke-width", 1.8).attr("marker-end", "url(#arrowD)");
  txt(80.5, 322, "DOWN in Slc11a2^{KD}", 5.2, { anchor: "middle", weight: "bold" });
  txt(131, 322, "UP in Slc11a2^{KD}", 5.2, { anchor: "middle", weight: "bold" });

  // zero line
  svg.append("line").attr("x1", x(0)).attr("x2", x(0)).attr("y1", T).attr("y2", B)
    .attr("stroke", "#AAA").attr("stroke-width", 0.5).attr("stroke-dasharray", "1.2,1.2");

  // labels (squeezed when wider than the margin)
  pathwaysD.forEach(function (p, i) {
    var lines = p.split("\n");
    lines.forEach(function (ln, j) {
      var t = txt(55, y(i) + 1.3 + (j - (lines.length - 1) / 2) * 4.6, ln, 3.7, { anchor: "end", fill: "#333" });
      var w = t.node().getComputedTextLength();
      if (w > 53) t.attr("textLength", 53).attr("lengthAdjust", "spacingAndGlyphs");
    });
  });

  // dots
  svg.append("g").selectAll("circle").data(nesD).enter().append("circle")
    .attr("cx", function (d) { return x(d); }).attr("cy", function (d, i) { return y(i); })
    .attr("r", function (d, i) { return rScale(ratioD[i]); })
    .attr("fill", function (d, i) { return pCol(padjD[i]); });

  // axes
  svg.append("line").attr("x1", L).attr("x2", L).attr("y1", T).attr("y2", B).attr("stroke", "#000").attr("stroke-width", 0.6);
  var ax = svg.append("g").attr("transform", "translate(0," + B + ")")
    .call(d3.axisBottom(x).tickValues([-2, 0, 2]).tickSize(1.5).tickPadding(1.5).tickFormat(String));
  styleAxis(ax, 5, "#333");
  ax.select(".domain").attr("stroke", "#000").attr("stroke-width", 0.6);
  txt(106, 511.5, "NES", 5, { anchor: "middle", weight: "bold" });

  // stray scale marks
  txt(81.7, 488, "-2", 4.3, { anchor: "middle", fill: "#333" });
  txt(120.7, 488, "0", 4.3, { anchor: "middle", fill: "#333" });
  txt(158.3, 488, "2", 4.3, { anchor: "middle", fill: "#333" });
  txt(121, 493, "NE", 4.3, { anchor: "middle", weight: "bold" });
  txt(121, 498, "S", 4.3, { anchor: "middle", weight: "bold" });

  // size legend
  txt(145.5, 373, "Gene Ratio", 4.4, { fill: "#222" });
  [0.4, 0.5, 0.6].forEach(function (v, i) {
    var cy = [378.7, 385.7, 393][i];
    svg.append("circle").attr("cx", 155).attr("cy", cy).attr("r", rScale(v)).attr("fill", "#000");
    txt(160, cy + 1.5, String(v), 4.2, { fill: "#222" });
  });

  // colour legend
  txt(145, 407.5, "p.adjust", 4.4, { fill: "#222" });
  var py = d3.scaleLinear().domain([0.001, 0.049]).range([459.3, 410]);
  var grad = defs.append("linearGradient").attr("id", "gradD").attr("x1", 0).attr("x2", 0).attr("y1", 1).attr("y2", 0);
  grad.append("stop").attr("offset", 0).attr("stop-color", pCol(0.001));
  grad.append("stop").attr("offset", 1).attr("stop-color", pCol(0.049));
  svg.append("rect").attr("x", 148.3).attr("y", 410).attr("width", 11).attr("height", 49.3).attr("fill", "url(#gradD)");
  var ap = svg.append("g").attr("transform", "translate(159.3,0)")
    .call(d3.axisRight(py).tickValues([0.01, 0.02, 0.03, 0.04]).tickSize(0).tickPadding(2).tickFormat(d3.format(".2f")));
  styleAxis(ap, 4.2, "#222");
  ap.select(".domain").remove();
})();

// ================= Panels E & F (bar charts) =================
function barPanel(cfg) {
  var x = d3.scaleBand().domain(cfg.genes).range(cfg.xr);
  var y = d3.scaleLinear().domain(cfg.yd).range([447.3, cfg.top]);
  var appFill = "#6A2C7A", kdStroke = "#B86AD9", kdFill = "#EBD3F5";

  txt(cfg.titleX, cfg.titleY, cfg.title, 9.3, { anchor: "middle", weight: "bold", fill: "#111" });
  txt(cfg.ylabX, 393, "Relative Gene Expression", 7.4, { anchor: "middle", weight: "bold", rotate: -90, fill: "#111" });

  // reference line at 1
  svg.append("line").attr("x1", cfg.axisX).attr("x2", cfg.xr[1]).attr("y1", y(1)).attr("y2", y(1))
    .attr("stroke", "#B5A9BF").attr("stroke-width", 0.6);

  var g = svg.append("g");
  cfg.genes.forEach(function (gname, i) {
    var c = x(gname) + x.bandwidth() / 2;
    // APP/PS1 bar
    g.append("rect").attr("x", c - 6.3).attr("y", y(cfg.meanA[i])).attr("width", 6)
      .attr("height", y(0) - y(cfg.meanA[i])).attr("fill", appFill).attr("stroke", "#111").attr("stroke-width", 0.6);
    // KD bar
    g.append("rect").attr("x", c + 0.8).attr("y", y(cfg.meanB[i])).attr("width", 5.2)
      .attr("height", y(0) - y(cfg.meanB[i])).attr("fill", kdFill).attr("stroke", kdStroke).attr("stroke-width", 1.1);
    // error bars
    [[c - 3.3, cfg.meanA[i], cfg.semA[i], "#111"], [c + 3.4, cfg.meanB[i], cfg.semB[i], kdStroke]].forEach(function (e) {
      g.append("line").attr("x1", e[0]).attr("x2", e[0]).attr("y1", y(e[1])).attr("y2", y(e[1] + e[2]))
        .attr("stroke", e[3]).attr("stroke-width", 0.7);
      g.append("line").attr("x1", e[0] - 1.4).attr("x2", e[0] + 1.4).attr("y1", y(e[1] + e[2])).attr("y2", y(e[1] + e[2]))
        .attr("stroke", e[3]).attr("stroke-width", 0.7);
    });
    // individual points
    cfg.ptsA[i].forEach(function (v, k) {
      g.append("circle").attr("cx", c - 3.3 + ((k % 3) - 1) * 1.2).attr("cy", y(v)).attr("r", 1.8)
        .attr("fill", "#fff").attr("fill-opacity", 0.6).attr("stroke", "#333").attr("stroke-width", 0.6);
    });
    cfg.ptsB[i].forEach(function (v, k) {
      g.append("circle").attr("cx", c + 3.4 + ((k % 3) - 1) * 1.2).attr("cy", y(v)).attr("r", 1.8)
        .attr("fill", "#fff").attr("fill-opacity", 0.6).attr("stroke", "#333").attr("stroke-width", 0.6);
    });
    if (cfg.stars[i] !== null) {
      txt(c + cfg.starDx, y(cfg.stars[i]) + 5, "*", 9, { anchor: "middle", weight: "bold" });
    }
    // gene label
    txt(c + 3.5, 452.5, gname, 7.6, { anchor: "end", weight: "bold", style: "italic", rotate: -45 });
  });

  var ay = svg.append("g").attr("transform", "translate(" + cfg.axisX + ",0)")
    .call(d3.axisLeft(y).tickValues(cfg.ticks).tickSize(2).tickPadding(0.8).tickFormat(String));
  styleAxis(ay, cfg.tickFont, "#111", "bold");
  ay.select(".domain").attr("stroke", "#000").attr("stroke-width", 1.1);
  ay.selectAll("line").attr("stroke-width", 1);
  svg.append("line").attr("x1", cfg.axisX).attr("x2", cfg.xr[1]).attr("y1", y(0)).attr("y2", y(0))
    .attr("stroke", "#000").attr("stroke-width", 1.1);
}

barPanel({
  genes: genesE, meanA: meanE_app, meanB: meanE_kd, semA: semE_app, semB: semE_kd,
  ptsA: ptsE_app, ptsB: ptsE_kd, stars: starE, starDx: 3.5,
  xr: [201.5, 382.2], axisX: 202.5, yd: [0, 15], top: 349, ticks: [0, 5, 10, 15], tickFont: 6.8,
  title: "Inflammatory Markers", titleX: 295, titleY: 338.5, ylabX: 190.5
});
barPanel({
  genes: genesF, meanA: meanF_app, meanB: meanF_kd, semA: semF_app, semB: semF_kd,
  ptsA: ptsF_app, ptsB: ptsF_kd, stars: starF, starDx: 0,
  xr: [407.3, 590.6], axisX: 408.3, yd: [0, 6], top: 346, ticks: [0, 2, 4, 6], tickFont: 7.4,
  title: "Iron/Oxidative Markers", titleX: 499, titleY: 335, ylabX: 397.5
});

// E legend
svg.append("rect").attr("x", 304).attr("y", 369.5).attr("width", 4.5).attr("height", 6.5)
  .attr("fill", "#6A2C7A").attr("stroke", "#111").attr("stroke-width", 0.6);
txt(311, 376, "APP/PS1", 7.6, { style: "italic" });
svg.append("rect").attr("x", 304).attr("y", 379.3).attr("width", 4.5).attr("height", 6)
  .attr("fill", "#EBD3F5").attr("stroke", "#B86AD9").attr("stroke-width", 1);
txt(311, 385.8, "Slc11a2^{KD}; APP/PS1", 7.6, { style: "italic" });

// ================= Panel G =================
(function () {
  var L = 647, R = 735, T = 328.3, B = 538;
  var x = d3.scaleBand().domain(d3.range(heatG[0].length)).range([L, R]);
  var y = d3.scaleBand().domain(genesG).range([T, B]);
  var col = d3.scaleLinear().domain([-2, -1, 0, 0.5, 1, 2])
    .range(["#5A6CF2", "#ADB0EE", "#E4E1DE", "#F9DDB5", "#FBBE86", "#EE3B22"]).clamp(true);

  txt(665.5, 322, "Control APP/PS1", 4.4, { anchor: "middle", fill: "#222" });
  txt(714.5, 322, "Slc11a2^{KD} APP/PS1", 4.4, { anchor: "middle", fill: "#222" });
  svg.append("rect").attr("x", L).attr("y", 324.2).attr("width", x(nCtrlG) - L).attr("height", 4.1).attr("fill", "#2E6DB4");
  svg.append("rect").attr("x", x(nCtrlG)).attr("y", 324.2).attr("width", R - x(nCtrlG)).attr("height", 4.1).attr("fill", "#CE7BB6");

  var cells = [];
  heatG.forEach(function (row, r) { row.forEach(function (v, c) { cells.push({ r: r, c: c, v: v }); }); });
  svg.append("g").selectAll("rect").data(cells).enter().append("rect")
    .attr("x", function (d) { return x(d.c); }).attr("y", function (d) { return y(genesG[d.r]); })
    .attr("width", x.bandwidth()).attr("height", y.bandwidth())
    .attr("fill", function (d) { return col(d.v); })
    .attr("stroke", "#555").attr("stroke-width", 0.35);

  svg.append("g").selectAll("text").data(genesG).enter().append("text")
    .attr("x", 645).attr("y", function (d) { return y(d) + y.bandwidth() / 2 + 1.6; })
    .attr("text-anchor", "end").attr("font-size", 4.6)
    .attr("fill", function (d) { return redGenesG.indexOf(d) >= 0 ? "#E8363A" : "#111"; })
    .text(function (d) { return d; });

  // separators
  var sep = svg.append("g").attr("stroke", "#000").attr("stroke-width", 1.6);
  sep.append("line").attr("x1", x(nCtrlG)).attr("x2", x(nCtrlG)).attr("y1", 324.2).attr("y2", B);
  var start = 0;
  groupSizesG.forEach(function (n, gi) {
    var y0 = y(genesG[start]), y1 = start + n < genesG.length ? y(genesG[start + n]) : B;
    if (gi < groupSizesG.length - 1) sep.append("line").attr("x1", L).attr("x2", R).attr("y1", y1).attr("y2", y1);
    txt(740.5, (y0 + y1) / 2, groupNamesG[gi], 4.5, { anchor: "middle", weight: "bold", rotate: -90 });
    start += n;
  });

  txt(614.5, 430, "DAM genes", 8.2, { anchor: "middle", rotate: -90, fill: "#222" });

  // colour legend
  txt(747.5, 398, "Z.score", 7.4, { fill: "#222" });
  var zy = d3.scaleLinear().domain([-2.3, 2.5]).range([472, 405]);
  var grad = defs.append("linearGradient").attr("id", "gradG").attr("x1", 0).attr("x2", 0).attr("y1", 1).attr("y2", 0);
  d3.range(0, 13).forEach(function (i) {
    var v = -2.3 + i / 12 * 4.8;
    grad.append("stop").attr("offset", i / 12).attr("stop-color", col(v));
  });
  svg.append("rect").attr("x", 748).attr("y", 405).attr("width", 12.7).attr("height", 67).attr("fill", "url(#gradG)");
  var az = svg.append("g").attr("transform", "translate(760.7,0)")
    .call(d3.axisRight(zy).tickValues([-2, -1, 0, 1, 2]).tickSize(0).tickPadding(4).tickFormat(String));
  styleAxis(az, 5.4, "#222");
  az.select(".domain").remove();
})();
</script>
</body>
</html>
